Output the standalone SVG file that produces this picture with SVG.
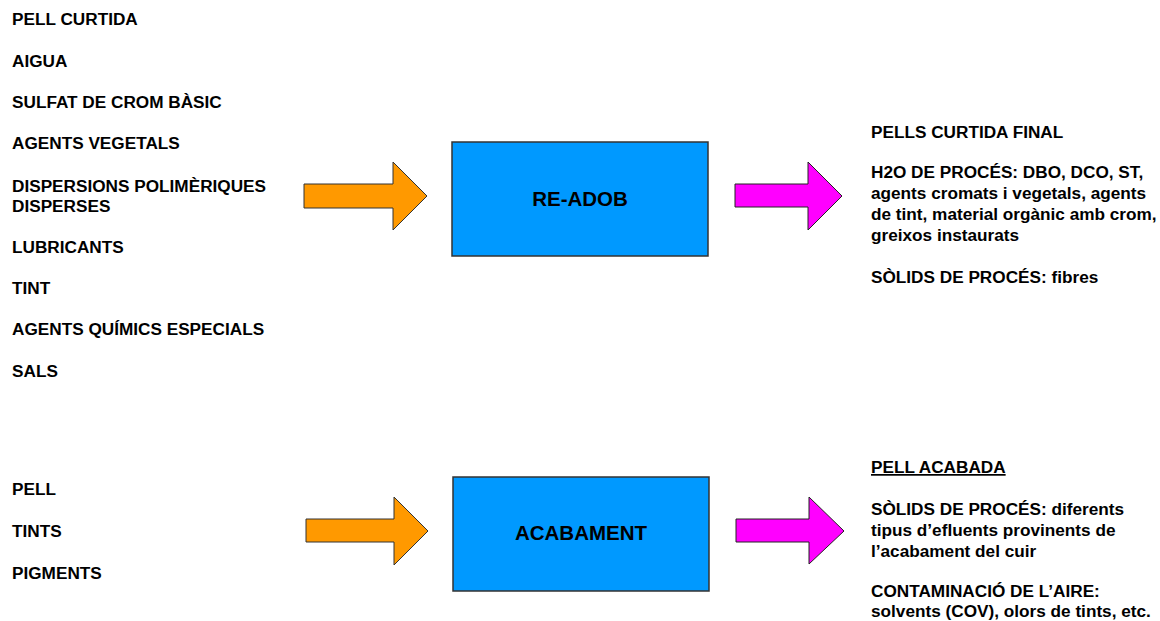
<svg xmlns="http://www.w3.org/2000/svg" width="1160" height="621" viewBox="0 0 1160 621">
<style>
.t{font-family:"Liberation Sans",Arial,sans-serif;font-weight:bold;font-size:17.2px;fill:#000}
.bt{font-family:"Liberation Sans",Arial,sans-serif;font-weight:bold;font-size:20.5px;fill:#000;text-anchor:middle}
.box{fill:#0099FF;stroke:#333;stroke-width:1.5}
.in{fill:#FF9900;stroke:#333;stroke-width:1}
.out{fill:#FF00FF;stroke:#222;stroke-width:1}
</style>
<rect width="1160" height="621" fill="#fff"/>
<g id="inputs-readob">
<text class="t" x="12" y="25">PELL CURTIDA</text>
<text class="t" x="12" y="66.5">AIGUA</text>
<text class="t" x="12" y="108">SULFAT DE CROM BÀSIC</text>
<text class="t" x="12" y="149">AGENTS VEGETALS</text>
<text class="t" x="12" y="191.5">DISPERSIONS POLIMÈRIQUES</text>
<text class="t" x="12" y="212">DISPERSES</text>
<text class="t" x="12" y="252.5">LUBRICANTS</text>
<text class="t" x="12" y="293.5">TINT</text>
<text class="t" x="12" y="335">AGENTS QUÍMICS ESPECIALS</text>
<text class="t" x="12" y="376.5">SALS</text>
</g>
<g id="inputs-acabament">
<text class="t" x="12" y="495">PELL</text>
<text class="t" x="12" y="537">TINTS</text>
<text class="t" x="12" y="578.5">PIGMENTS</text>
</g>
<g id="connectors">
<path class="in" d="M304,184 H393 V162 L427,196 L393,230 V208 H304 Z"/>
<path class="out" d="M735,184 H808 V162 L842,196 L808,230 V207 H735 Z"/>
<path class="in" d="M306,519 H394 V497 L428,531 L394,565 V542 H306 Z"/>
<path class="out" d="M736,519 H809 V497 L844,531 L809,564 V542 H736 Z"/>
</g>
<g id="readob">
<rect class="box" x="452" y="142" width="256" height="114"/>
<text class="bt" x="580" y="206">RE-ADOB</text>
</g>
<g id="acabament">
<rect class="box" x="453" y="477" width="256" height="114"/>
<text class="bt" x="581" y="540">ACABAMENT</text>
</g>
<g id="outputs-readob">
<text class="t" x="871" y="138">PELLS CURTIDA FINAL</text>
<text class="t" x="871" y="178">H2O DE PROCÉS: DBO, DCO, ST,</text>
<text class="t" x="871" y="199">agents cromats i vegetals, agents</text>
<text class="t" x="871" y="220">de tint, material orgànic amb crom,</text>
<text class="t" x="871" y="241">greixos instaurats</text>
<text class="t" x="871" y="283">SÒLIDS DE PROCÉS: fibres</text>
</g>
<g id="outputs-acabament">
<text class="t" x="871" y="473" text-decoration="underline">PELL ACABADA</text>
<text class="t" x="871" y="515">SÒLIDS DE PROCÉS: diferents</text>
<text class="t" x="871" y="536">tipus d’efluents provinents de</text>
<text class="t" x="871" y="557">l’acabament del cuir</text>
<text class="t" x="871" y="596.5">CONTAMINACIÓ DE L’AIRE:</text>
<text class="t" x="871" y="616.5">solvents (COV), olors de tints, etc.</text>
</g>
</svg>
